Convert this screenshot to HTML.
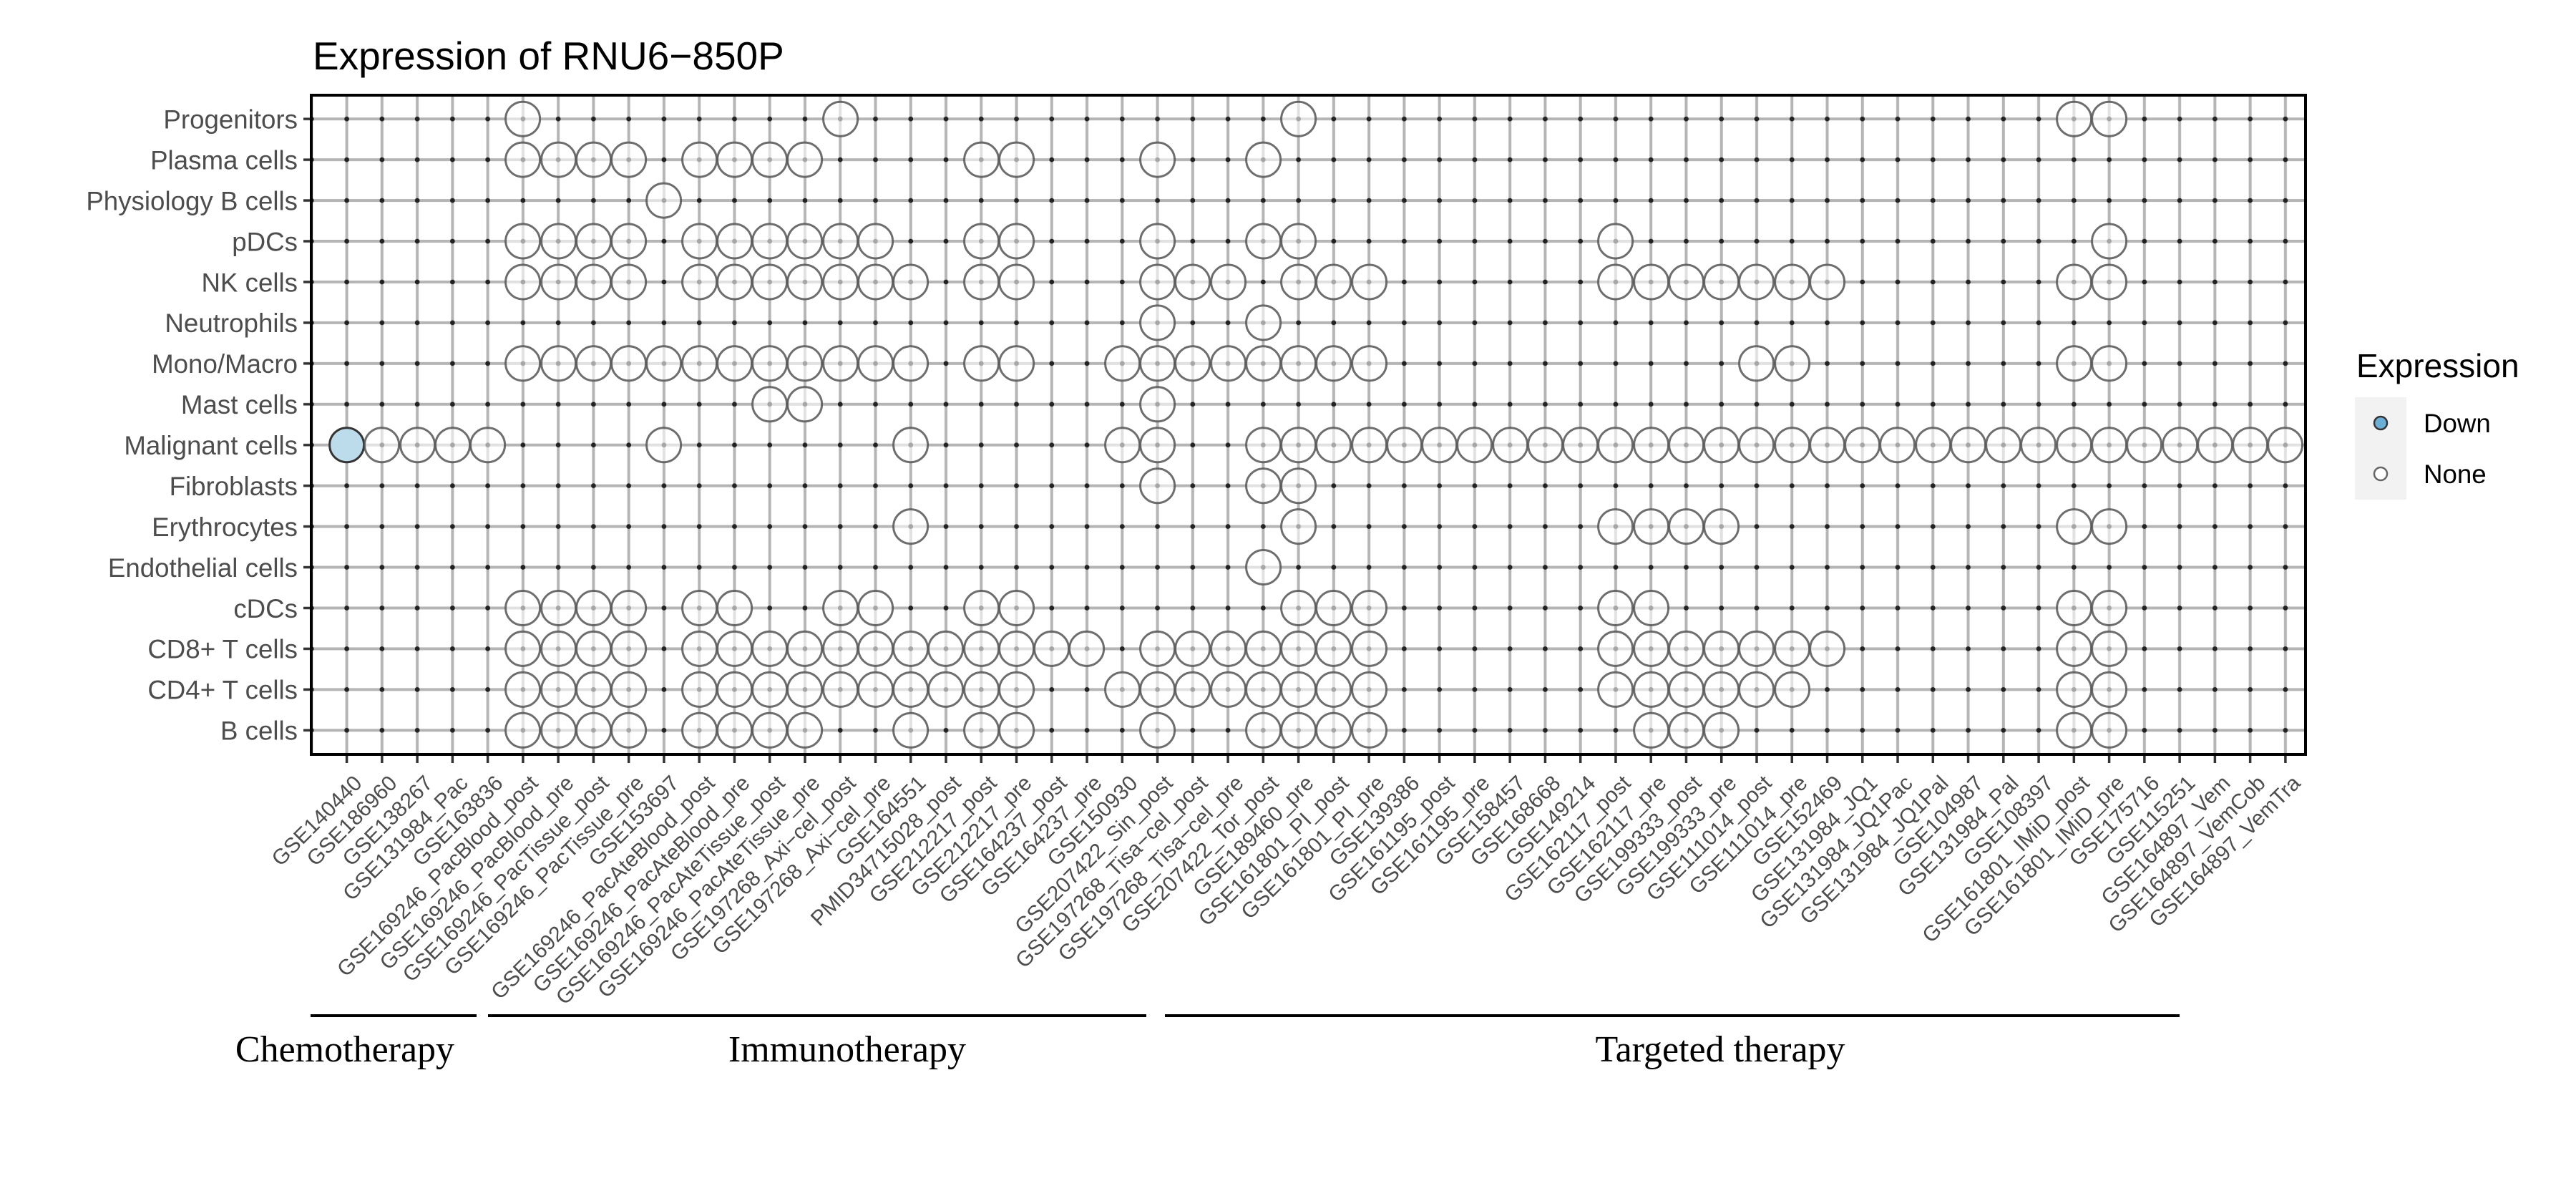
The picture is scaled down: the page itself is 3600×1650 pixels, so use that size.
<!DOCTYPE html>
<html><head><meta charset="utf-8"><style>
html,body{margin:0;padding:0;background:#fff;}
svg{display:block;}
.yl{font-family:"Liberation Sans",sans-serif;font-size:36.7px;fill:#4D4D4D;text-anchor:end;}
.xl{font-family:"Liberation Sans",sans-serif;font-size:30px;fill:#4D4D4D;text-anchor:end;}
.grp{font-family:"Liberation Serif",serif;font-size:52px;fill:#000;text-anchor:middle;}
</style></head><body>
<svg width="3600" height="1650" viewBox="0 0 3600 1650" xmlns="http://www.w3.org/2000/svg">
<defs>
<pattern id="grid" patternUnits="userSpaceOnUse" x="459.97" y="137.73" width="49.26" height="56.94">
<line x1="24.63" y1="0" x2="24.63" y2="56.94" stroke="#b5b5b5" stroke-width="4"/>
<line x1="0" y1="28.47" x2="49.26" y2="28.47" stroke="#b5b5b5" stroke-width="4"/>
<circle cx="24.63" cy="28.47" r="3.4" fill="#222"/>
</pattern>
<pattern id="xt" patternUnits="userSpaceOnUse" x="459.97" y="0" width="49.26" height="2000">
<line x1="24.63" y1="0" x2="24.63" y2="2000" stroke="#333" stroke-width="3.5"/>
</pattern>
<pattern id="yt" patternUnits="userSpaceOnUse" x="0" y="137.73" width="100" height="56.94">
<line x1="0" y1="28.47" x2="100" y2="28.47" stroke="#333" stroke-width="3.5"/>
</pattern>
<circle id="o" cx="0" cy="0" r="24" fill="#fff" fill-opacity="0.6" stroke="#555" stroke-opacity="0.85" stroke-width="3"/>
</defs>

<text x="437" y="97" font-family="Liberation Sans,sans-serif" font-size="55" fill="#000">Expression of RNU6−850P</text>

<rect x="437" y="134" width="2783" height="919" fill="url(#grid)"/>
<rect x="438" y="1055" width="2782" height="11" fill="url(#xt)"/>
<rect x="424" y="134" width="10" height="919" fill="url(#yt)"/>

<g transform="translate(484.6 166.2)"><use href="#o" x="246"/><use href="#o" x="690"/><use href="#o" x="1330"/><use href="#o" x="2414"/><use href="#o" x="2463"/></g>
<g transform="translate(484.6 223.1)"><use href="#o" x="246"/><use href="#o" x="296"/><use href="#o" x="345"/><use href="#o" x="394"/><use href="#o" x="493"/><use href="#o" x="542"/><use href="#o" x="591"/><use href="#o" x="640"/><use href="#o" x="887"/><use href="#o" x="936"/><use href="#o" x="1133"/><use href="#o" x="1281"/></g>
<g transform="translate(484.6 280.1)"><use href="#o" x="443"/></g>
<g transform="translate(484.6 337.0)"><use href="#o" x="246"/><use href="#o" x="296"/><use href="#o" x="345"/><use href="#o" x="394"/><use href="#o" x="493"/><use href="#o" x="542"/><use href="#o" x="591"/><use href="#o" x="640"/><use href="#o" x="690"/><use href="#o" x="739"/><use href="#o" x="887"/><use href="#o" x="936"/><use href="#o" x="1133"/><use href="#o" x="1281"/><use href="#o" x="1330"/><use href="#o" x="1773"/><use href="#o" x="2463"/></g>
<g transform="translate(484.6 394.0)"><use href="#o" x="246"/><use href="#o" x="296"/><use href="#o" x="345"/><use href="#o" x="394"/><use href="#o" x="493"/><use href="#o" x="542"/><use href="#o" x="591"/><use href="#o" x="640"/><use href="#o" x="690"/><use href="#o" x="739"/><use href="#o" x="788"/><use href="#o" x="887"/><use href="#o" x="936"/><use href="#o" x="1133"/><use href="#o" x="1182"/><use href="#o" x="1232"/><use href="#o" x="1330"/><use href="#o" x="1379"/><use href="#o" x="1429"/><use href="#o" x="1773"/><use href="#o" x="1823"/><use href="#o" x="1872"/><use href="#o" x="1921"/><use href="#o" x="1970"/><use href="#o" x="2020"/><use href="#o" x="2069"/><use href="#o" x="2414"/><use href="#o" x="2463"/></g>
<g transform="translate(484.6 450.9)"><use href="#o" x="1133"/><use href="#o" x="1281"/></g>
<g transform="translate(484.6 507.8)"><use href="#o" x="246"/><use href="#o" x="296"/><use href="#o" x="345"/><use href="#o" x="394"/><use href="#o" x="443"/><use href="#o" x="493"/><use href="#o" x="542"/><use href="#o" x="591"/><use href="#o" x="640"/><use href="#o" x="690"/><use href="#o" x="739"/><use href="#o" x="788"/><use href="#o" x="887"/><use href="#o" x="936"/><use href="#o" x="1084"/><use href="#o" x="1133"/><use href="#o" x="1182"/><use href="#o" x="1232"/><use href="#o" x="1281"/><use href="#o" x="1330"/><use href="#o" x="1379"/><use href="#o" x="1429"/><use href="#o" x="1970"/><use href="#o" x="2020"/><use href="#o" x="2414"/><use href="#o" x="2463"/></g>
<g transform="translate(484.6 564.8)"><use href="#o" x="591"/><use href="#o" x="640"/><use href="#o" x="1133"/></g>
<g transform="translate(484.6 621.7)"><circle cx="0" cy="0" r="24" fill="#bcdcec" stroke="#333" stroke-width="3"/><use href="#o" x="49"/><use href="#o" x="99"/><use href="#o" x="148"/><use href="#o" x="197"/><use href="#o" x="443"/><use href="#o" x="788"/><use href="#o" x="1084"/><use href="#o" x="1133"/><use href="#o" x="1281"/><use href="#o" x="1330"/><use href="#o" x="1379"/><use href="#o" x="1429"/><use href="#o" x="1478"/><use href="#o" x="1527"/><use href="#o" x="1576"/><use href="#o" x="1626"/><use href="#o" x="1675"/><use href="#o" x="1724"/><use href="#o" x="1773"/><use href="#o" x="1823"/><use href="#o" x="1872"/><use href="#o" x="1921"/><use href="#o" x="1970"/><use href="#o" x="2020"/><use href="#o" x="2069"/><use href="#o" x="2118"/><use href="#o" x="2167"/><use href="#o" x="2217"/><use href="#o" x="2266"/><use href="#o" x="2315"/><use href="#o" x="2364"/><use href="#o" x="2414"/><use href="#o" x="2463"/><use href="#o" x="2512"/><use href="#o" x="2562"/><use href="#o" x="2611"/><use href="#o" x="2660"/><use href="#o" x="2709"/></g>
<g transform="translate(484.6 678.7)"><use href="#o" x="1133"/><use href="#o" x="1281"/><use href="#o" x="1330"/></g>
<g transform="translate(484.6 735.6)"><use href="#o" x="788"/><use href="#o" x="1330"/><use href="#o" x="1773"/><use href="#o" x="1823"/><use href="#o" x="1872"/><use href="#o" x="1921"/><use href="#o" x="2414"/><use href="#o" x="2463"/></g>
<g transform="translate(484.6 792.5)"><use href="#o" x="1281"/></g>
<g transform="translate(484.6 849.5)"><use href="#o" x="246"/><use href="#o" x="296"/><use href="#o" x="345"/><use href="#o" x="394"/><use href="#o" x="493"/><use href="#o" x="542"/><use href="#o" x="690"/><use href="#o" x="739"/><use href="#o" x="887"/><use href="#o" x="936"/><use href="#o" x="1330"/><use href="#o" x="1379"/><use href="#o" x="1429"/><use href="#o" x="1773"/><use href="#o" x="1823"/><use href="#o" x="2414"/><use href="#o" x="2463"/></g>
<g transform="translate(484.6 906.4)"><use href="#o" x="246"/><use href="#o" x="296"/><use href="#o" x="345"/><use href="#o" x="394"/><use href="#o" x="493"/><use href="#o" x="542"/><use href="#o" x="591"/><use href="#o" x="640"/><use href="#o" x="690"/><use href="#o" x="739"/><use href="#o" x="788"/><use href="#o" x="837"/><use href="#o" x="887"/><use href="#o" x="936"/><use href="#o" x="985"/><use href="#o" x="1034"/><use href="#o" x="1133"/><use href="#o" x="1182"/><use href="#o" x="1232"/><use href="#o" x="1281"/><use href="#o" x="1330"/><use href="#o" x="1379"/><use href="#o" x="1429"/><use href="#o" x="1773"/><use href="#o" x="1823"/><use href="#o" x="1872"/><use href="#o" x="1921"/><use href="#o" x="1970"/><use href="#o" x="2020"/><use href="#o" x="2069"/><use href="#o" x="2414"/><use href="#o" x="2463"/></g>
<g transform="translate(484.6 963.4)"><use href="#o" x="246"/><use href="#o" x="296"/><use href="#o" x="345"/><use href="#o" x="394"/><use href="#o" x="493"/><use href="#o" x="542"/><use href="#o" x="591"/><use href="#o" x="640"/><use href="#o" x="690"/><use href="#o" x="739"/><use href="#o" x="788"/><use href="#o" x="837"/><use href="#o" x="887"/><use href="#o" x="936"/><use href="#o" x="1084"/><use href="#o" x="1133"/><use href="#o" x="1182"/><use href="#o" x="1232"/><use href="#o" x="1281"/><use href="#o" x="1330"/><use href="#o" x="1379"/><use href="#o" x="1429"/><use href="#o" x="1773"/><use href="#o" x="1823"/><use href="#o" x="1872"/><use href="#o" x="1921"/><use href="#o" x="1970"/><use href="#o" x="2020"/><use href="#o" x="2414"/><use href="#o" x="2463"/></g>
<g transform="translate(484.6 1020.3)"><use href="#o" x="246"/><use href="#o" x="296"/><use href="#o" x="345"/><use href="#o" x="394"/><use href="#o" x="493"/><use href="#o" x="542"/><use href="#o" x="591"/><use href="#o" x="640"/><use href="#o" x="788"/><use href="#o" x="887"/><use href="#o" x="936"/><use href="#o" x="1133"/><use href="#o" x="1281"/><use href="#o" x="1330"/><use href="#o" x="1379"/><use href="#o" x="1429"/><use href="#o" x="1823"/><use href="#o" x="1872"/><use href="#o" x="1921"/><use href="#o" x="2414"/><use href="#o" x="2463"/></g>

<rect x="435" y="133" width="2787" height="921" fill="none" stroke="#000" stroke-width="4"/>

<g>
<text class="yl" x="416" y="179.5">Progenitors</text>
<text class="yl" x="416" y="236.4">Plasma cells</text>
<text class="yl" x="416" y="293.4">Physiology B cells</text>
<text class="yl" x="416" y="350.3">pDCs</text>
<text class="yl" x="416" y="407.3">NK cells</text>
<text class="yl" x="416" y="464.2">Neutrophils</text>
<text class="yl" x="416" y="521.1">Mono/Macro</text>
<text class="yl" x="416" y="578.1">Mast cells</text>
<text class="yl" x="416" y="635.0">Malignant cells</text>
<text class="yl" x="416" y="692.0">Fibroblasts</text>
<text class="yl" x="416" y="748.9">Erythrocytes</text>
<text class="yl" x="416" y="805.8">Endothelial cells</text>
<text class="yl" x="416" y="862.8">cDCs</text>
<text class="yl" x="416" y="919.7">CD8+ T cells</text>
<text class="yl" x="416" y="976.7">CD4+ T cells</text>
<text class="yl" x="416" y="1033.6">B cells</text>
</g>

<g transform="translate(507.6 1096)">
<text class="xl" transform="translate(0) rotate(-45)">GSE140440</text>
<text class="xl" transform="translate(49) rotate(-45)">GSE186960</text>
<text class="xl" transform="translate(99) rotate(-45)">GSE138267</text>
<text class="xl" transform="translate(148) rotate(-45)">GSE131984_Pac</text>
<text class="xl" transform="translate(197) rotate(-45)">GSE163836</text>
<text class="xl" transform="translate(246) rotate(-45)">GSE169246_PacBlood_post</text>
<text class="xl" transform="translate(296) rotate(-45)">GSE169246_PacBlood_pre</text>
<text class="xl" transform="translate(345) rotate(-45)">GSE169246_PacTissue_post</text>
<text class="xl" transform="translate(394) rotate(-45)">GSE169246_PacTissue_pre</text>
<text class="xl" transform="translate(443) rotate(-45)">GSE153697</text>
<text class="xl" transform="translate(493) rotate(-45)">GSE169246_PacAteBlood_post</text>
<text class="xl" transform="translate(542) rotate(-45)">GSE169246_PacAteBlood_pre</text>
<text class="xl" transform="translate(591) rotate(-45)">GSE169246_PacAteTissue_post</text>
<text class="xl" transform="translate(640) rotate(-45)">GSE169246_PacAteTissue_pre</text>
<text class="xl" transform="translate(690) rotate(-45)">GSE197268_Axi−cel_post</text>
<text class="xl" transform="translate(739) rotate(-45)">GSE197268_Axi−cel_pre</text>
<text class="xl" transform="translate(788) rotate(-45)">GSE164551</text>
<text class="xl" transform="translate(837) rotate(-45)">PMID34715028_post</text>
<text class="xl" transform="translate(887) rotate(-45)">GSE212217_post</text>
<text class="xl" transform="translate(936) rotate(-45)">GSE212217_pre</text>
<text class="xl" transform="translate(985) rotate(-45)">GSE164237_post</text>
<text class="xl" transform="translate(1034) rotate(-45)">GSE164237_pre</text>
<text class="xl" transform="translate(1084) rotate(-45)">GSE150930</text>
<text class="xl" transform="translate(1133) rotate(-45)">GSE207422_Sin_post</text>
<text class="xl" transform="translate(1182) rotate(-45)">GSE197268_Tisa−cel_post</text>
<text class="xl" transform="translate(1232) rotate(-45)">GSE197268_Tisa−cel_pre</text>
<text class="xl" transform="translate(1281) rotate(-45)">GSE207422_Tor_post</text>
<text class="xl" transform="translate(1330) rotate(-45)">GSE189460_pre</text>
<text class="xl" transform="translate(1379) rotate(-45)">GSE161801_PI_post</text>
<text class="xl" transform="translate(1429) rotate(-45)">GSE161801_PI_pre</text>
<text class="xl" transform="translate(1478) rotate(-45)">GSE139386</text>
<text class="xl" transform="translate(1527) rotate(-45)">GSE161195_post</text>
<text class="xl" transform="translate(1576) rotate(-45)">GSE161195_pre</text>
<text class="xl" transform="translate(1626) rotate(-45)">GSE158457</text>
<text class="xl" transform="translate(1675) rotate(-45)">GSE168668</text>
<text class="xl" transform="translate(1724) rotate(-45)">GSE149214</text>
<text class="xl" transform="translate(1773) rotate(-45)">GSE162117_post</text>
<text class="xl" transform="translate(1823) rotate(-45)">GSE162117_pre</text>
<text class="xl" transform="translate(1872) rotate(-45)">GSE199333_post</text>
<text class="xl" transform="translate(1921) rotate(-45)">GSE199333_pre</text>
<text class="xl" transform="translate(1970) rotate(-45)">GSE111014_post</text>
<text class="xl" transform="translate(2020) rotate(-45)">GSE111014_pre</text>
<text class="xl" transform="translate(2069) rotate(-45)">GSE152469</text>
<text class="xl" transform="translate(2118) rotate(-45)">GSE131984_JQ1</text>
<text class="xl" transform="translate(2167) rotate(-45)">GSE131984_JQ1Pac</text>
<text class="xl" transform="translate(2217) rotate(-45)">GSE131984_JQ1Pal</text>
<text class="xl" transform="translate(2266) rotate(-45)">GSE104987</text>
<text class="xl" transform="translate(2315) rotate(-45)">GSE131984_Pal</text>
<text class="xl" transform="translate(2364) rotate(-45)">GSE108397</text>
<text class="xl" transform="translate(2414) rotate(-45)">GSE161801_IMiD_post</text>
<text class="xl" transform="translate(2463) rotate(-45)">GSE161801_IMiD_pre</text>
<text class="xl" transform="translate(2512) rotate(-45)">GSE175716</text>
<text class="xl" transform="translate(2562) rotate(-45)">GSE115251</text>
<text class="xl" transform="translate(2611) rotate(-45)">GSE164897_Vem</text>
<text class="xl" transform="translate(2660) rotate(-45)">GSE164897_VemCob</text>
<text class="xl" transform="translate(2709) rotate(-45)">GSE164897_VemTra</text>
</g>

<line x1="434" y1="1419" x2="666" y2="1419" stroke="#000" stroke-width="4"/>
<line x1="682" y1="1419" x2="1602" y2="1419" stroke="#000" stroke-width="4"/>
<line x1="1628" y1="1419" x2="3046" y2="1419" stroke="#000" stroke-width="4"/>
<text class="grp" x="482" y="1483">Chemotherapy</text>
<text class="grp" x="1184" y="1483">Immunotherapy</text>
<text class="grp" x="2404" y="1483">Targeted therapy</text>

<text x="3293" y="527" font-family="Liberation Sans,sans-serif" font-size="46" fill="#000">Expression</text>
<rect x="3291" y="555" width="72" height="143" fill="#F2F2F2"/>
<circle cx="3327" cy="591" r="9" fill="#6baed6" stroke="#333" stroke-width="2.5"/>
<circle cx="3327" cy="662" r="9" fill="#fff" stroke="#666" stroke-width="2.5"/>
<text x="3387" y="604" font-family="Liberation Sans,sans-serif" font-size="36.7" fill="#000">Down</text>
<text x="3387" y="675" font-family="Liberation Sans,sans-serif" font-size="36.7" fill="#000">None</text>
</svg>
</body></html>
